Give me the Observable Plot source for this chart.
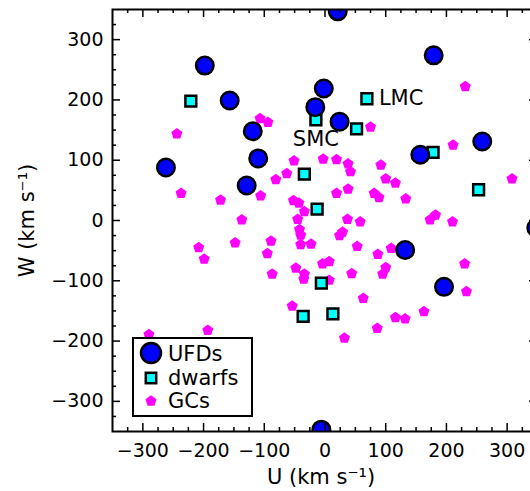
<!DOCTYPE html>
<html><head><meta charset="utf-8">
<script src="https://cdn.jsdelivr.net/npm/d3@7"></script>
<script src="https://cdn.jsdelivr.net/npm/@observablehq/plot@0.6"></script>
<style>
body{margin:0;background:#fff;}
#wrap{position:relative;width:530px;height:491px;overflow:hidden;background:#fff;}
#wrap svg.plot{max-width:none !important;width:537px !important;height:491px !important;display:block;}
#legend{position:absolute;left:0;top:0;}
</style></head><body><div id="wrap"></div>
<script>
// Ultra-faint dwarfs (UFDs)
const ufdU = [21, -198, -157, 179, -2, -16, 24, -119, -110, -262, -129, 157, 259, 132, 196, -6, 348];
const ufdW = [347, 257, 199, 274, 219, 188, 164, 148, 103, 88, 58, 109, 131, -49, -110, -347, -12];
// Classical dwarfs
const dwarfU = [-221, 69, -15, 52, 178, 253, -34, -13, -6, -36, 13];
const dwarfW = [198, 202, 167, 152, 113, 51, 77, 19, -104, -159, -155];
const dwarfName = ["", "LMC", "SMC", "", "", "", "", "", "", "", ""];
// Globular clusters
const gcU = [-244, -237, -172, -137, -208, -199, -148, -290, -193, -107, -94, -106, -81, -63, -51, -3, 19, 38, 42, 75,
  231, 211, 308, 92, 100, 116, 133, 19, 38, 81, 89, -52, -43, -34, -45, 37, 58, 173, 182, 210,
  -42, -40, -89, -40, -23, 24, 29, 53, 87, 109, -95, -48, -34, -35, -87, -4, 7, 7, 44, 100,
  95, 230, 233, 63, -54, 163, 116, 132, 86, 32];
const gcW = [144, 45, 34, 1, -45, -64, -37, -189, -182, 169, 163, 41, 68, 78, 99, 102, 101, 94, 81, 155,
  222, 125, 69, 92, 69, 62, 36, 45, 52, 45, 38, 33, 29, 15, 2, 2, -2, 1, 9, -2,
  -15, -24, -34, -40, -39, -25, -19, -43, -56, -46, -55, -79, -89, -97, -89, -72, -68, -99, -88, -78,
  -89, -72, -118, -129, -142, -151, -161, -163, -179, -195];
const majorTicks = [-300, -200, -100, 0, 100, 200, 300];
const minorTicks = [-325, -275, -250, -225, -175, -150, -125, -75, -50, -25, 25, 50, 75, 125, 150, 175, 225, 250, 275, 325];
const legendLabels = ["UFDs", "dwarfs", "GCs"];

const ufds = ufdU.map((u, i) => ({U: u, W: ufdW[i]}));
const dwarfs = dwarfU.map((u, i) => ({U: u, W: dwarfW[i], name: dwarfName[i]}));
const gcs = gcU.map((u, i) => ({U: u, W: gcW[i]}));

const pentagon = {
  draw(ctx, size) {
    const R = Math.sqrt(size / Math.PI);
    for (let k = 0; k < 5; k++) {
      const a = -Math.PI / 2 + k * 2 * Math.PI / 5;
      const x = R * Math.cos(a), y = R * Math.sin(a);
      if (k) ctx.lineTo(x, y); else ctx.moveTo(x, y);
    }
    ctx.closePath();
  }
};

const width = 537, height = 491, mT = 9, mB = 60, mL = 112, mR = 0;
const fH = height - mT - mB, fW = width - mL - mR;
const font = "DejaVu Sans";

const chart = Plot.plot({
  width, height, marginTop: mT, marginBottom: mB, marginLeft: mL, marginRight: mR,
  x: {domain: [-350, 350]},
  y: {domain: [-350, 350]},
  style: {fontFamily: font, fontSize: "19px", color: "black", background: "white", maxWidth: "none"},
  marks: [
    Plot.dot(gcs, {x: "U", y: "W", symbol: pentagon, r: 5.8, fill: "#ff00ff", stroke: null, clip: true}),
    Plot.dot(dwarfs, {x: "U", y: "W", symbol: "square", r: 6.1, fill: "#00ffff", stroke: "black", strokeWidth: 2.5, clip: true}),
    Plot.dot(ufds, {x: "U", y: "W", r: 8.75, fill: "#0000ff", stroke: "black", strokeWidth: 2.5, clip: true}),
    Plot.text(dwarfs.filter(d => d.name === "LMC"), {x: "U", y: "W", text: "name", textAnchor: "start", dx: 12, fontSize: 21}),
    Plot.text(dwarfs.filter(d => d.name === "SMC"), {x: "U", y: "W", text: "name", dy: 19, fontSize: 21}),
    // inward ticks on all four sides
    Plot.ruleX(majorTicks, {x: d => d, insetTop: fH - 8, strokeWidth: 1.5}),
    Plot.ruleX(majorTicks, {x: d => d, insetBottom: fH - 8, strokeWidth: 1.5}),
    Plot.ruleX(minorTicks, {x: d => d, insetTop: fH - 4, strokeWidth: 1.5}),
    Plot.ruleX(minorTicks, {x: d => d, insetBottom: fH - 4, strokeWidth: 1.5}),
    Plot.ruleY(majorTicks, {y: d => d, insetRight: fW - 8, strokeWidth: 1.5}),
    Plot.ruleY(majorTicks, {y: d => d, insetLeft: fW - 8, strokeWidth: 1.5}),
    Plot.ruleY(minorTicks, {y: d => d, insetRight: fW - 4, strokeWidth: 1.5}),
    Plot.ruleY(minorTicks, {y: d => d, insetLeft: fW - 4, strokeWidth: 1.5}),
    Plot.frame({stroke: "black", strokeWidth: 2}),
    Plot.axisX(majorTicks, {anchor: "bottom", tickSize: 0, tickPadding: 12, label: null, fontSize: 19}),
    Plot.axisY(majorTicks, {anchor: "left", tickSize: 0, tickPadding: 9, label: null, fontSize: 19}),
    Plot.text(["U (km s⁻¹)"], {frameAnchor: "bottom", text: d => d, lineAnchor: "middle", textAnchor: "middle", dy: 46, dx: -4, fontSize: 21}),
    Plot.text(["W (km s⁻¹)"], {frameAnchor: "left", text: d => d, lineAnchor: "middle", textAnchor: "middle", rotate: -90, dx: -85, fontSize: 21})
  ]
});
chart.classList.add("plot");
const wrap = document.getElementById("wrap");
wrap.appendChild(chart);

// legend box
const leg = d3.select(wrap).append("svg").attr("id", "legend").attr("width", 530).attr("height", 491);
leg.append("rect").attr("x", 133).attr("y", 338).attr("width", 119).attr("height", 78)
  .attr("fill", "white").attr("stroke", "black").attr("stroke-width", 2);
leg.append("circle").attr("cx", 151).attr("cy", 353).attr("r", 10)
  .attr("fill", "#0000ff").attr("stroke", "black").attr("stroke-width", 2.5);
leg.append("rect").attr("x", 151 - 5.2).attr("y", 378 - 5.2).attr("width", 10.4).attr("height", 10.4)
  .attr("fill", "#00ffff").attr("stroke", "black").attr("stroke-width", 2.5);
leg.append("path").attr("transform", "translate(151,401)")
  .attr("d", d3.symbol(pentagon, Math.PI * 5.8 * 5.8)()).attr("fill", "#ff00ff");
leg.selectAll("text.l").data(legendLabels).join("text")
  .attr("x", 168).attr("y", (d, i) => [354, 378, 401][i]).attr("dy", "0.35em")
  .attr("font-family", font).attr("font-size", 21).text(d => d);
</script></body></html>
